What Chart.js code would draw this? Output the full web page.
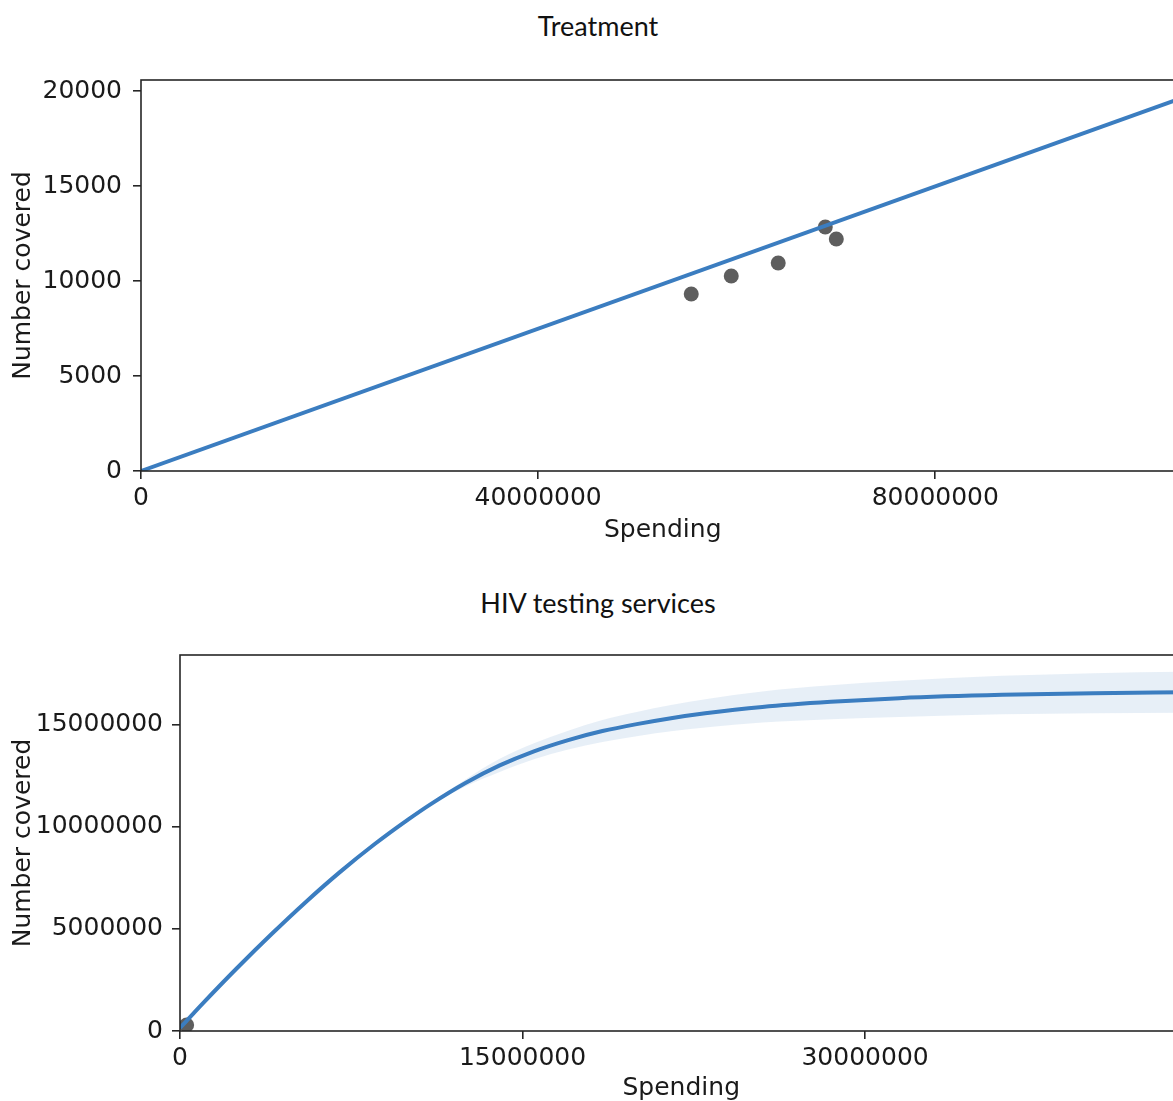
<!DOCTYPE html>
<html>
<head>
<meta charset="utf-8">
<script src="https://cdn.jsdelivr.net/npm/chart.js@4.4.1/dist/chart.umd.min.js"></script>
<style>
  html, body { margin: 0; padding: 0; background: #fff; overflow: hidden; width: 1173px; height: 1101px; }
  .panel-title { position: absolute; left: 0; width: 1196px; text-align: center;
                 font-family: Lato, "Open Sans", sans-serif; font-size: 27px; color: #111; line-height: 1; }
  .panel { position: absolute; left: 0; }
</style>
</head>
<body>
<div class="panel-title" style="top:12px">Treatment</div>
<div class="panel" style="top:54px"><canvas id="treatment" width="1192" height="491"></canvas></div>
<div class="panel-title" style="top:589px">HIV testing services</div>
<div class="panel" style="top:631px"><canvas id="testing" width="1190" height="472"></canvas></div>

<script>
// ---- Treatment: linear cost-coverage fit and observed points ----
const treatFitSpend = [0, 105000000];
const treatFitCovered = [0, 19660];
const treatObsSpend = [55420000, 59450000, 64180000, 68920000, 70030000];
const treatObsCovered = [9320, 10260, 10950, 12840, 12210];
const treatXTicks = [0, 40000000, 80000000];
const treatYTicks = [0, 5000, 10000, 15000, 20000];

// ---- HIV testing services: saturating fit with uncertainty band ----
const testFitSpend = [0, 250000, 1000000, 2500000, 4000000, 5500000, 7000000, 8500000, 10000000,
  11000000, 12500000, 14000000, 15500000, 17000000, 18500000, 20000000, 21500000, 23000000,
  25500000, 28500000, 31500000, 36000000, 40000000, 44000000];
const testFitCovered = [150000, 450000, 1350000, 3080000, 4730000, 6300000, 7770000, 9120000, 10350000,
  11110000, 12130000, 12990000, 13680000, 14230000, 14670000, 15010000, 15300000, 15540000,
  15850000, 16100000, 16280000, 16440000, 16520000, 16570000];
const testUpper = [150000, 450000, 1350000, 3080000, 4730000, 6300000, 7770000, 9120000, 10360000,
  11180000, 12300000, 13310000, 14070000, 14690000, 15210000, 15600000, 15940000, 16230000,
  16610000, 16910000, 17130000, 17370000, 17500000, 17570000];
const testLower = [150000, 450000, 1350000, 3080000, 4730000, 6300000, 7770000, 9120000, 10340000,
  11040000, 11960000, 12670000, 13290000, 13770000, 14130000, 14420000, 14660000, 14850000,
  15090000, 15250000, 15360000, 15490000, 15540000, 15570000];
const testObsSpend = [290000];
const testObsCovered = [290000];
const testXTicks = [0, 15000000, 30000000];
const testYTicks = [0, 5000000, 10000000, 15000000];

const LINE = '#3b7dc0';
const DOT = '#5e5e5e';
const BAND = 'rgba(59,125,192,0.12)';
const INK = '#1a1a1a';
const AXIS = '#262626';
const TICK_FONT = { family: 'DejaVu Sans', size: 25 };

const pairs = (xs, ys) => xs.map((x, i) => ({ x: x, y: ys[i] }));

// matplotlib-style box around the plotting area
const framePlugin = {
  id: 'frame',
  afterDatasetsDraw(chart) {
    const { ctx, chartArea: a } = chart;
    ctx.save();
    ctx.strokeStyle = AXIS;
    ctx.lineWidth = 1.6;
    ctx.strokeRect(a.left, a.top, a.right - a.left, a.bottom - a.top);
    ctx.restore();
  }
};

function axis(opts) {
  const isX = opts.dir === 'x';
  return {
    type: 'linear',
    min: opts.min,
    max: opts.max,
    afterBuildTicks: s => { s.ticks = opts.ticks.map(v => ({ value: v })); },
    afterFit: s => { if (isX) s.height = opts.size; else s.width = opts.size; },
    grid: { display: true, drawOnChartArea: false, drawTicks: true, tickLength: 8, color: AXIS, lineWidth: 1.6 },
    border: { display: false },
    ticks: {
      font: TICK_FONT, color: INK, padding: opts.pad,
      maxRotation: 0, minRotation: 0, autoSkip: false,
      callback: v => String(v)
    },
    title: {
      display: true, text: opts.title, font: TICK_FONT, color: INK,
      padding: isX ? { top: 0, bottom: 0 } : { top: 8, bottom: 0 }
    }
  };
}

function baseOptions(scales) {
  return {
    responsive: false,
    animation: false,
    layout: { padding: { top: 10, left: 0, right: 0, bottom: 0 } },
    plugins: { legend: { display: false }, tooltip: { enabled: false } },
    scales: scales
  };
}

new Chart(document.getElementById('treatment'), {
  type: 'scatter',
  data: {
    datasets: [
      {
        data: pairs(treatFitSpend, treatFitCovered),
        showLine: true, borderColor: LINE, borderWidth: 4, pointRadius: 0, order: 0
      },
      {
        data: pairs(treatObsSpend, treatObsCovered),
        backgroundColor: DOT, borderWidth: 0, pointRadius: 7.5, order: 1
      }
    ]
  },
  options: baseOptions({
    x: axis({ dir: 'x', min: 0, max: 105100000, ticks: treatXTicks, size: 74, pad: 4, title: 'Spending' }),
    y: axis({ dir: 'y', min: 0, max: 20580, ticks: treatYTicks, size: 141, pad: 11, title: 'Number covered' })
  }),
  plugins: [framePlugin]
});

new Chart(document.getElementById('testing'), {
  type: 'scatter',
  data: {
    datasets: [
      {
        data: pairs(testFitSpend, testFitCovered),
        showLine: true, borderColor: LINE, borderWidth: 4, pointRadius: 0,
        cubicInterpolationMode: 'monotone', order: 0
      },
      {
        data: pairs(testObsSpend, testObsCovered),
        backgroundColor: DOT, borderWidth: 0, pointRadius: 7.5, order: 1
      },
      {
        data: pairs(testFitSpend, testUpper),
        showLine: true, borderWidth: 0, borderColor: 'rgba(0,0,0,0)', pointRadius: 0,
        cubicInterpolationMode: 'monotone', backgroundColor: BAND, fill: '+1', order: 2
      },
      {
        data: pairs(testFitSpend, testLower),
        showLine: true, borderWidth: 0, borderColor: 'rgba(0,0,0,0)', pointRadius: 0,
        cubicInterpolationMode: 'monotone', fill: false, order: 3
      }
    ]
  },
  options: baseOptions({
    x: axis({ dir: 'x', min: 0, max: 43900000, ticks: testXTicks, size: 72, pad: 4, title: 'Spending' }),
    y: axis({ dir: 'y', min: 0, max: 18390000, ticks: testYTicks, size: 180, pad: 9, title: 'Number covered' })
  }),
  plugins: [framePlugin]
});
</script>
</body>
</html>
